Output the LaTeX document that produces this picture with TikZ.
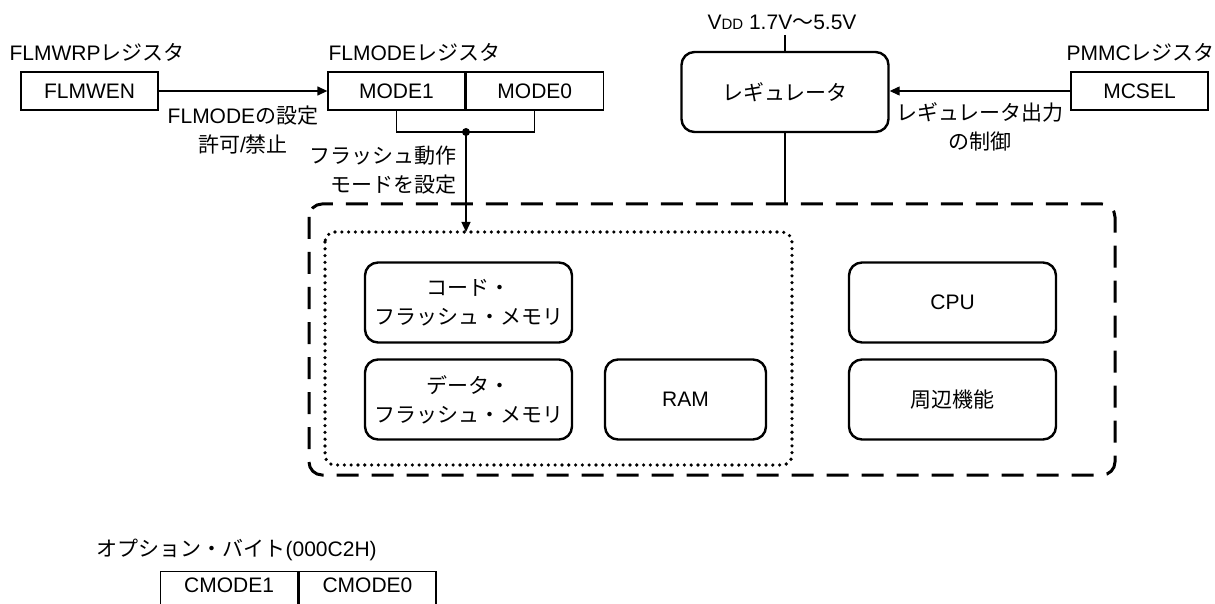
\documentclass[tikz,border=0pt]{standalone}
\usepackage{fontspec}
\setmainfont{Liberation Sans}
\newfontfamily\jp{Noto Sans CJK JP}
\usetikzlibrary{arrows.meta, positioning}
\newcommand\txt{\fontsize{10.5}{14.5}\selectfont}
\tikzset{
  every picture/.style={font=\txt, line width=0.65pt},
  reg/.style={draw, minimum width=68.5pt, minimum height=19pt, inner sep=0pt},
  blk/.style={draw, rounded corners=6.5pt, line width=1.2pt, minimum width=103.5pt, minimum height=40pt, inner sep=0pt, align=center, font=\jp\txt},
  arrow/.style={-{Triangle[length=5pt, width=4.5pt]}},
  lbl/.style={inner sep=0pt, align=center},
  jp/.style={font=\jp\txt},
}

\begin{document}
\begin{tikzpicture}[x=0.5pt, y=-0.5pt]
  \useasboundingbox (0,0) rectangle (1215,604);
  \clip (0,0) rectangle (1215,604);
  % registers
  \node[lbl, anchor=west] (flmwrp) at (9,52) {FLMWRP{\jp レジスタ}};
  \node[reg] (flmwen) at (89.5,91) {FLMWEN};
  \node[lbl, anchor=west] (flmode) at (328,52) {FLMODE{\jp レジスタ}};
  \node[reg] (mode1) at (396.5,91) {MODE1};
  \node[reg, right=0pt of mode1] (mode0) {MODE0};
  \node[lbl, anchor=west] (pmmc) at (1066,52) {PMMC{\jp レジスタ}};
  \node[reg] (mcsel) at (1139.5,91) {MCSEL};
  \draw[arrow] (flmwen) -- (mode1)
    node[midway, below=7pt, lbl] (flmwenlbl) {FLMODE{\jp の設定}\\{\jp 許可}/{\jp 禁止}};
  \coordinate (dot) at (466,132);
  \coordinate (memtop) at (466,232);
  \draw (mode1.south) |- (dot) -| (mode0.south);
  \fill (dot) circle (2pt);
  \draw[arrow] (dot) -- (memtop);
  \node[lbl, jp, align=right, anchor=north east] (modelbl) at (457,145) {フラッシュ動作\\モードを設定};
  % regulator
  \node[blk] (regul) at (785,92) {レギュレータ};
  \node[lbl] (vdd) at (782,22) {V{\fontsize{7.5}{9}\selectfont DD} 1.7V{\jp ～}5.5V};
  \coordinate (vddin) at (785,35);
  \coordinate (systop) at (785,204);
  \draw[line width=1pt] (vddin) -- (regul);
  \draw[line width=1pt] (regul) -- (systop);
  \draw[arrow] (mcsel.west) -- (mcsel.west -| regul.east)
    node[midway, below=5.5pt, lbl, jp] (mcsellbl) {レギュレータ出力\\の制御};
  % system
  \draw[line width=1.5pt, dash pattern=on 11pt off 6.5pt, rounded corners=6.5pt] (309,204) rectangle (1115,475);
  \draw[line width=1.8pt, line cap=round, dash pattern=on 0pt off 3.4pt, rounded corners=5pt] (325,232) rectangle (792,465);
  \node[blk] (codefl) at (468.5,302.5) {コード・\\フラッシュ・メモリ};
  \node[blk] (datafl) at (468.5,399.5) {データ・\\フラッシュ・メモリ};
  \node[blk, minimum width=80.5pt, font=\txt] (ram) at (685.5,399.5) {RAM};
  \node[blk, font=\txt] (cpu) at (952.5,302.5) {CPU};
  \node[blk] (periph) at (952.5,399.5) {周辺機能};
  % option byte
  \node[lbl, anchor=west] (optbyte) at (96,550) {{\jp オプション・バイト}(000C2H)};
  \node[reg, text depth=5pt, anchor=north west] (cmode1) at (160,571) {CMODE1};
  \node[reg, text depth=5pt, right=0pt of cmode1] (cmode0) {CMODE0};
\end{tikzpicture}
\end{document}
